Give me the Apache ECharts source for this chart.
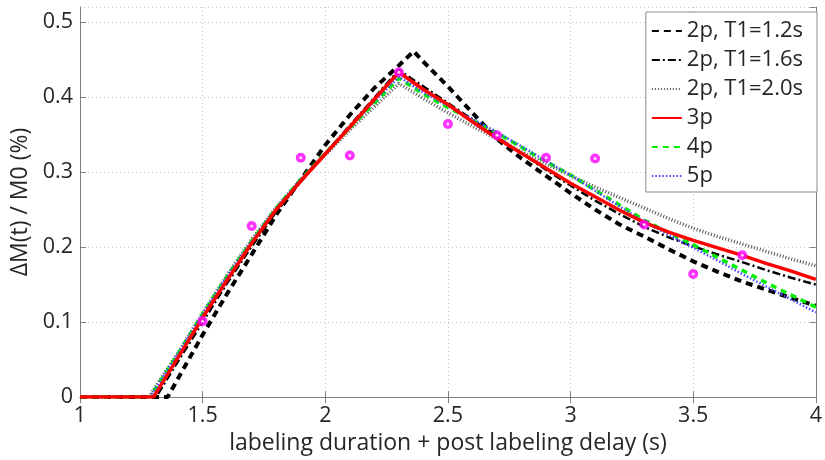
<!DOCTYPE html>
<html><head><meta charset="utf-8">
<script src="https://cdn.jsdelivr.net/npm/echarts@6/dist/echarts.min.js"></script>
<style>html,body{margin:0;padding:0;background:#fff}#c{width:825px;height:460px}</style>
</head><body><div id="c"></div>
<script>
// ---- data ----
const xMin = 1, xMax = 4, xStep = 0.5;
const yMin = 0, yMax = 0.52, yStep = 0.1;

const names = ['2p, T1=1.2s', '2p, T1=1.6s', '2p, T1=2.0s', '3p', '4p', '5p'];

const t2p12 = [1, 1.357, 1.4, 1.5, 1.6, 1.7, 1.8, 1.9, 2.0, 2.1, 2.2, 2.3, 2.36, 2.4, 2.5, 2.6, 2.7, 2.8, 2.9, 3.0, 3.1, 3.2, 3.3, 3.4, 3.5, 3.6, 3.7, 3.8, 3.9, 4.0];
const y2p12 = [0, 0, 0.025, 0.083, 0.138, 0.19, 0.243, 0.29, 0.336, 0.376, 0.412, 0.442, 0.461, 0.447, 0.414, 0.379, 0.344, 0.318, 0.295, 0.272, 0.25, 0.23, 0.214, 0.197, 0.181, 0.167, 0.154, 0.143, 0.132, 0.122];

const t2p16 = [1, 1.31, 1.4, 1.5, 1.6, 1.7, 1.8, 1.9, 2.0, 2.1, 2.2, 2.3, 2.4, 2.5, 2.6, 2.7, 2.8, 2.9, 3.0, 3.1, 3.2, 3.3, 3.4, 3.5, 3.6, 3.7, 3.8, 3.9, 4.0];
const y2p16 = [0, 0, 0.048, 0.1, 0.152, 0.201, 0.247, 0.287, 0.325, 0.362, 0.399, 0.436, 0.414, 0.392, 0.37, 0.347, 0.325, 0.303, 0.282, 0.262, 0.244, 0.227, 0.213, 0.201, 0.19, 0.18, 0.169, 0.159, 0.15];

const t2p20 = [1, 1.28, 1.4, 1.5, 1.6, 1.7, 1.8, 1.9, 2.0, 2.1, 2.2, 2.3, 2.4, 2.5, 2.6, 2.7, 2.8, 2.9, 3.0, 3.1, 3.2, 3.3, 3.4, 3.5, 3.6, 3.7, 3.8, 3.9, 4.0];
const y2p20 = [0, 0, 0.059, 0.112, 0.163, 0.21, 0.253, 0.29, 0.323, 0.356, 0.387, 0.418, 0.398, 0.379, 0.361, 0.344, 0.327, 0.311, 0.295, 0.28, 0.266, 0.252, 0.238, 0.225, 0.214, 0.204, 0.194, 0.184, 0.175];

const t3p = [1, 1.3, 1.4, 1.5, 1.6, 1.7, 1.8, 1.9, 2.0, 2.1, 2.2, 2.3, 2.4, 2.5, 2.6, 2.7, 2.8, 2.9, 3.0, 3.1, 3.2, 3.3, 3.4, 3.5, 3.6, 3.7, 3.8, 3.9, 4.0];
const y3p = [0, 0, 0.053, 0.106, 0.156, 0.205, 0.25, 0.288, 0.324, 0.36, 0.397, 0.433, 0.41, 0.39, 0.367, 0.345, 0.325, 0.305, 0.285, 0.267, 0.249, 0.233, 0.22, 0.209, 0.199, 0.189, 0.178, 0.168, 0.157];

const t4p = [1, 1.285, 1.4, 1.5, 1.6, 1.7, 1.8, 1.9, 2.0, 2.1, 2.2, 2.3, 2.4, 2.5, 2.6, 2.7, 2.8, 2.9, 3.0, 3.1, 3.2, 3.3, 3.4, 3.5, 3.6, 3.7, 3.8, 3.9, 4.0];
const y4p = [0, 0, 0.058, 0.111, 0.161, 0.208, 0.252, 0.29, 0.325, 0.359, 0.392, 0.425, 0.404, 0.386, 0.369, 0.352, 0.333, 0.314, 0.296, 0.276, 0.256, 0.236, 0.219, 0.203, 0.186, 0.169, 0.152, 0.136, 0.12];

const t5p = [1, 1.285, 1.4, 1.5, 1.6, 1.7, 1.8, 1.9, 2.0, 2.1, 2.2, 2.3, 2.4, 2.5, 2.6, 2.7, 2.8, 2.9, 3.0, 3.1, 3.2, 3.3, 3.4, 3.5, 3.6, 3.7, 3.8, 3.9, 4.0];
const y5p = [0, 0, 0.058, 0.111, 0.161, 0.208, 0.252, 0.29, 0.325, 0.36, 0.394, 0.427, 0.406, 0.388, 0.371, 0.353, 0.334, 0.315, 0.296, 0.275, 0.254, 0.234, 0.216, 0.199, 0.182, 0.164, 0.147, 0.13, 0.113];

const tMeas = [1.5, 1.7, 1.9, 2.1, 2.3, 2.5, 2.7, 2.9, 3.1, 3.3, 3.5, 3.7];
const yMeas = [0.101, 0.228, 0.319, 0.322, 0.433, 0.364, 0.349, 0.319, 0.318, 0.230, 0.164, 0.189];

// ---- build chart ----
const zip = (a, b) => a.map((v, i) => [v, b[i]]);
const FONT = 'Open Sans';
const axisColor = '#808080';
const txtColor = '#262626';

function lineSeries(name, t, y, color, width, type, z) {
  return {
    name, type: 'line', data: zip(t, y), showSymbol: false, symbol: 'none',
    lineStyle: { color, width, type, cap: 'butt' }, itemStyle: { color },
    z: z || 2, animation: false
  };
}

const chart = echarts.init(document.getElementById('c'), null, { renderer: 'canvas' });
chart.setOption({
  animation: false,
  backgroundColor: '#fff',
  textStyle: { fontFamily: FONT },
  grid: { left: 80, right: 5, top: 7, bottom: 57 },
  legend: {
    data: names, orient: 'vertical', right: 8, top: 12,
    itemWidth: 30, itemHeight: 14, itemGap: 7,
    padding: [8, 14, 5, 5],
    borderColor: '#8c8c8c', borderWidth: 1, backgroundColor: '#fff',
    itemStyle: { opacity: 0 },
    textStyle: { fontFamily: FONT, fontSize: 22, color: txtColor, lineHeight: 22 },
    selectedMode: false
  },
  xAxis: [{
    type: 'value', min: xMin, max: xMax, interval: xStep,
    name: 'labeling duration + post labeling delay (s)', nameLocation: 'middle', nameGap: 28,
    nameTextStyle: { fontFamily: FONT, fontSize: 23, color: txtColor },
    axisLine: { lineStyle: { color: axisColor } },
    axisTick: { inside: true, length: 6, lineStyle: { color: axisColor } },
    axisLabel: { fontFamily: FONT, fontSize: 21.5, color: txtColor, margin: 8 },
    splitLine: { show: true, lineStyle: { color: '#c4c4c4', type: [1, 3] } }
  }, {
    type: 'value', position: 'top', min: xMin, max: xMax, interval: xStep,
    axisLine: { show: true, lineStyle: { color: axisColor } },
    axisTick: { inside: true, length: 6, lineStyle: { color: axisColor } },
    axisLabel: { show: false }, splitLine: { show: false }
  }],
  yAxis: [{
    type: 'value', min: yMin, max: yMax, interval: yStep,
    name: 'ΔM(t) / M0 (%)', nameLocation: 'middle', nameGap: 43, nameRotate: 90,
    nameTextStyle: { fontFamily: FONT, fontSize: 23, color: txtColor },
    axisLine: { show: true, lineStyle: { color: axisColor } },
    axisTick: { show: true, inside: true, length: 6, lineStyle: { color: axisColor } },
    axisLabel: { fontFamily: FONT, fontSize: 21.5, color: txtColor, margin: 7, showMaxLabel: false },
    splitLine: { show: true, lineStyle: { color: '#c4c4c4', type: [1, 3] } }
  }, {
    type: 'value', position: 'right', min: yMin, max: yMax, interval: yStep,
    axisLine: { show: true, lineStyle: { color: axisColor } },
    axisTick: { show: true, inside: true, length: 6, lineStyle: { color: axisColor } },
    axisLabel: { show: false }, splitLine: { show: false }
  }],
  series: [
    lineSeries(names[0], t2p12, y2p12, '#000000', 4, [7, 5], 2),
    lineSeries(names[1], t2p16, y2p16, '#000000', 2.5, [8, 3, 2, 3], 2),
    lineSeries(names[2], t2p20, y2p20, '#555555', 3.5, [1, 2], 2),
    lineSeries(names[3], t3p, y3p, '#ff0000', 3.5, 'solid', 4),
    lineSeries(names[4], t4p, y4p, '#00ee00', 3.5, [6, 5], 3),
    lineSeries(names[5], t5p, y5p, '#4a4aff', 2.5, [1.5, 2], 3),
    {
      name: 'data', type: 'scatter', data: zip(tMeas, yMeas),
      symbol: 'circle', symbolSize: 10,
      itemStyle: { color: '#ff00ff' },
      z: 5, animation: false
    },
    {
      name: 'data-center', type: 'scatter', data: zip(tMeas, yMeas),
      symbol: 'circle', symbolSize: 3,
      itemStyle: { color: '#ffffff' },
      z: 6, animation: false, silent: true
    }
  ]
});
</script></body></html>
